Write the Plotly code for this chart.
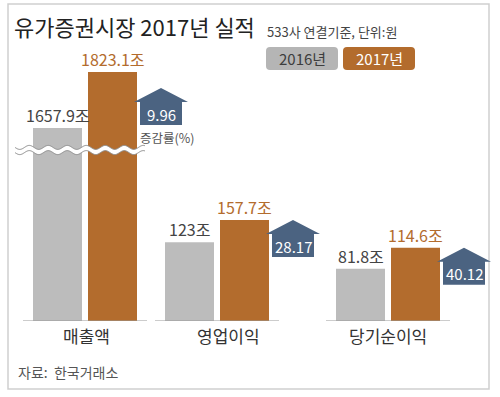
import numpy as np
import plotly.graph_objects as go

# ---------------- data ----------------
categories = ["매출액", "영업이익", "당기순이익"]
values_2016 = [1657.9, 123.0, 81.8]
values_2017 = [1823.1, 157.7, 114.6]
labels_2016 = ["1657.9조", "123조", "81.8조"]
labels_2017 = ["1823.1조", "157.7조", "114.6조"]
growth_rates = [9.96, 28.17, 40.12]
series_names = ["2016년", "2017년"]

# ---------------- layout constants ----------------
W, H = 500, 397
FONT = "Noto Sans CJK KR"
GRAY = "#bcbcbc"
ORANGE = "#b36c2d"
ARROW = "#4b6381"

BAR_W = 49
GAP = 6
gray_left = [33, 165, 336]          # left edge of each group (px / x units)
cat_label_x = [86, 228, 388]
arrow_dy = [-16, 0, 0]              # arrow tip offset from orange bar top (px)
BASE_PX, BREAK_PX, TOP_PX = 321, 150, 60
low_range = [0, 267.2]
high_range = [1593, 1858.5]


def py(p):
    """pixel row -> paper fraction"""
    return 1 - p / H


gray_x = [g + BAR_W / 2 for g in gray_left]
orange_x = [g + BAR_W + GAP + BAR_W / 2 for g in gray_left]
broken = [v > low_range[1] for v in values_2017]

fig = go.Figure()

# lower (unbroken) segment
fig.add_trace(go.Bar(x=gray_x, y=values_2016, width=BAR_W, marker_color=GRAY,
                     marker_line_width=0, name=series_names[0], yaxis="y",
                     hoverinfo="skip", showlegend=False))
fig.add_trace(go.Bar(x=orange_x, y=values_2017, width=BAR_W, marker_color=ORANGE,
                     marker_line_width=0, name=series_names[1], yaxis="y",
                     hoverinfo="skip", showlegend=False))
# upper segment for broken bars
bx_g = [x for x, b in zip(gray_x, broken) if b]
bx_o = [x for x, b in zip(orange_x, broken) if b]
bv_g = [v for v, b in zip(values_2016, broken) if b]
bv_o = [v for v, b in zip(values_2017, broken) if b]
fig.add_trace(go.Bar(x=bx_g, y=bv_g, width=BAR_W, marker_color=GRAY,
                     marker_line_width=0, yaxis="y2", hoverinfo="skip", showlegend=False))
fig.add_trace(go.Bar(x=bx_o, y=bv_o, width=BAR_W, marker_color=ORANGE,
                     marker_line_width=0, yaxis="y2", hoverinfo="skip", showlegend=False))

shapes = []
annotations = []

# outer frame
shapes.append(dict(type="rect", xref="paper", yref="paper",
                   x0=8 / W, x1=489 / W, y0=py(389), y1=py(4),
                   line=dict(color="#cfcfcf", width=1.5), fillcolor="rgba(0,0,0,0)", layer="below"))

for i, cat in enumerate(categories):
    yref = "y2" if broken[i] else "y"
    # baseline
    shapes.append(dict(type="line", xref="x", yref="y",
                       x0=gray_left[i] - 10, x1=orange_x[i] + BAR_W / 2 + 10, y0=0, y1=0,
                       line=dict(color="#9a9a9a", width=1.2)))
    # value labels
    annotations.append(dict(x=gray_x[i], y=values_2016[i], xref="x", yref=yref,
                            text=labels_2016[i], showarrow=False, yanchor="bottom", yshift=-1,
                            font=dict(family=FONT, size=16, color="#444444")))
    annotations.append(dict(x=orange_x[i], y=values_2017[i], xref="x", yref=yref,
                            text=labels_2017[i], showarrow=False, yanchor="bottom", yshift=-1,
                            font=dict(family=FONT, size=16, color=ORANGE)))
    # growth arrow
    tip_x = orange_x[i] + BAR_W / 2 + 24
    d = arrow_dy[i]
    path = (f"M {tip_x} {d} L {tip_x + 27} {d - 14} L {tip_x + 21} {d - 14} "
            f"L {tip_x + 21} {d - 37} L {tip_x - 21} {d - 37} L {tip_x - 21} {d - 14} "
            f"L {tip_x - 27} {d - 14} Z")
    shapes.append(dict(type="path", xref="x", yref=yref, ysizemode="pixel",
                       yanchor=values_2017[i], path=path, fillcolor=ARROW,
                       line=dict(width=0)))
    annotations.append(dict(x=tip_x, y=values_2017[i], xref="x", yref=yref,
                            text=f"{growth_rates[i]:.2f}", showarrow=False,
                            yanchor="middle", yshift=d - 26,
                            font=dict(family=FONT, size=15, color="white")))
    # category label
    annotations.append(dict(x=cat_label_x[i], y=0, xref="x", yref="y", text=cat,
                            showarrow=False, yanchor="middle", yshift=-14,
                            font=dict(family=FONT, size=17, color="#333333")))
    if i == 0:
        annotations.append(dict(x=tip_x - 23, y=values_2017[i], xref="x", yref=yref,
                                text="증감률(%)", showarrow=False, xanchor="left",
                                yanchor="middle", yshift=d - 49,
                                font=dict(family=FONT, size=12.5, color="#555555")))

# wavy break line across the broken group
wx = np.linspace(15, 145, 261)
wave = 2.0 * np.sin((wx - 15) / 19.0 * 2 * np.pi)
up = BREAK_PX - 2.6 + wave
lo = BREAK_PX + 2.6 + wave
fill_path = "M " + " L ".join(f"{x:.2f} {py(y):.5f}" for x, y in zip(wx, up))
fill_path += " L " + " L ".join(f"{x:.2f} {py(y):.5f}" for x, y in zip(wx[::-1], lo[::-1])) + " Z"
shapes.append(dict(type="path", xref="x", yref="paper", path=fill_path,
                   fillcolor="white", line=dict(width=0)))
for arr in (up, lo):
    p = "M " + " L ".join(f"{x:.2f} {py(y):.5f}" for x, y in zip(wx, arr))
    shapes.append(dict(type="path", xref="x", yref="paper", path=p,
                       line=dict(color="#8a8a8a", width=1)))

# legend boxes
def rrect(x0, x1, y0, y1, r=4):
    return (f"M {x0 + r} {py(y0)} L {x1 - r} {py(y0)} Q {x1} {py(y0)} {x1} {py(y0 + r)} "
            f"L {x1} {py(y1 - r)} Q {x1} {py(y1)} {x1 - r} {py(y1)} "
            f"L {x0 + r} {py(y1)} Q {x0} {py(y1)} {x0} {py(y1 - r)} "
            f"L {x0} {py(y0 + r)} Q {x0} {py(y0)} {x0 + r} {py(y0)} Z")

leg = [(266, 338, "#b5b5b5", "#3d3d3d"), (343, 415, ORANGE, "white")]
for (x0, x1, fc, tc), name in zip(leg, series_names):
    shapes.append(dict(type="path", xref="x", yref="paper", path=rrect(x0, x1, 47, 70),
                       fillcolor=fc, line=dict(width=0)))
    annotations.append(dict(x=(x0 + x1) / 2, y=py(58.5), xref="x", yref="paper", text=name,
                            showarrow=False, xanchor="center", yanchor="middle",
                            font=dict(family=FONT, size=15, color=tc)))

# titles and source
annotations.append(dict(x=12, y=py(26), xref="x", yref="paper", xanchor="left", yanchor="middle",
                        text="유가증권시장 2017년 실적", showarrow=False,
                        font=dict(family=FONT, size=22, color="#222222")))
annotations.append(dict(x=265, y=py(31), xref="x", yref="paper", xanchor="left", yanchor="middle",
                        text="533사 연결기준, 단위:원", showarrow=False,
                        font=dict(family=FONT, size=13, color="#444444")))
annotations.append(dict(x=16, y=py(372), xref="x", yref="paper", xanchor="left", yanchor="middle",
                        text="자료:  한국거래소", showarrow=False,
                        font=dict(family=FONT, size=14, color="#555555")))

fig.update_layout(
    width=W, height=H,
    margin=dict(l=0, r=0, t=0, b=0),
    paper_bgcolor="white", plot_bgcolor="white",
    barmode="overlay", showlegend=False,
    xaxis=dict(range=[0, W], domain=[0, 1], visible=False, fixedrange=True),
    yaxis=dict(domain=[py(BASE_PX), py(BREAK_PX)], range=low_range, visible=False,
               anchor="x", fixedrange=True),
    yaxis2=dict(domain=[py(BREAK_PX), py(TOP_PX)], range=high_range, visible=False,
                anchor="x", fixedrange=True),
    shapes=shapes, annotations=annotations,
)

fig.write_html("out.html", config={"displayModeBar": False},
               post_script="document.body.style.margin='0';document.body.style.overflow='hidden';")
